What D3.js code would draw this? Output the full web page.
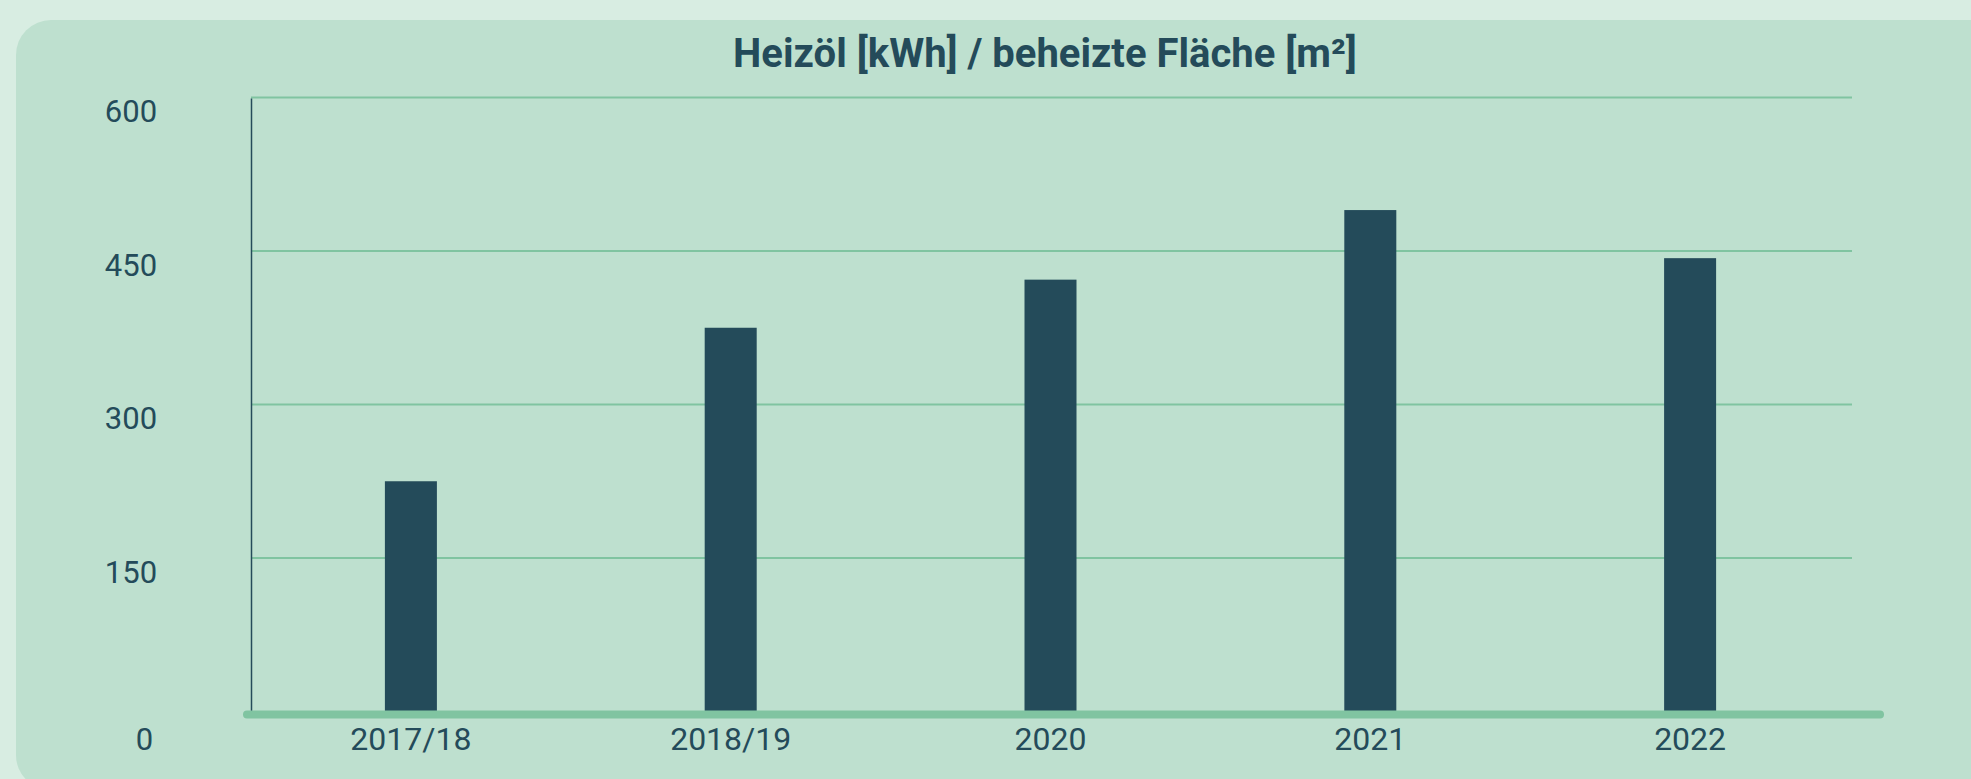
<!DOCTYPE html>
<html lang="de">
<head>
<meta charset="UTF-8">
<title>Heizöl</title>
<script src="https://cdn.jsdelivr.net/npm/d3@7"></script>
<style>
  body { margin: 0; background: #d8ede2; overflow: hidden; }
  text { font-family: Roboto, "Noto Sans", sans-serif; fill: #244b5a; }
</style>
</head>
<body>
<div id="chart"></div>
<script>
// data
const categories = ["2017/18", "2018/19", "2020", "2021", "2022"]
const values = [225, 375, 422, 490, 443]
const yTicks = [0, 150, 300, 450, 600]
const title = "Heizöl [kWh] / beheizte Fläche [m²]"

const width = 1971
const height = 779

const svg = d3.select("#chart").append("svg")
    .attr("width", width)
    .attr("height", height)

// card
svg.append("rect")
    .attr("x", 16).attr("y", 20)
    .attr("width", 2000).attr("height", 770)
    .attr("rx", 35)
    .attr("fill", "#bee0cf")

const x = d3.scaleBand().domain(categories).range([251, 1850])
const y = d3.scaleLinear().domain([0, 600]).range([711.5, 97.5])

// gridlines
svg.append("g")
    .selectAll("line")
    .data(yTicks.filter(d => d > 0))
    .enter().append("line")
    .attr("x1", 251).attr("x2", 1852)
    .attr("y1", d => y(d)).attr("y2", d => y(d))
    .attr("stroke", "#80c4a1")
    .attr("stroke-width", 1.8)

// left axis line
svg.append("line")
    .attr("x1", 251.5).attr("x2", 251.5)
    .attr("y1", y(600) + 1).attr("y2", y(0))
    .attr("stroke", "#244b5a")
    .attr("stroke-width", 1.5)

// bars
const barW = 52
svg.append("g")
    .selectAll("rect")
    .data(values)
    .enter().append("rect")
    .attr("x", (d, i) => x(categories[i]) + x.bandwidth() / 2 - barW / 2)
    .attr("y", d => y(d))
    .attr("width", barW)
    .attr("height", d => y(0) - y(d))
    .attr("fill", "#244b5a")

// thick base line
svg.append("line")
    .attr("x1", 247).attr("x2", 1880)
    .attr("y1", y(0) + 3).attr("y2", y(0) + 3)
    .attr("stroke", "#80c4a1")
    .attr("stroke-width", 8)
    .attr("stroke-linecap", "round")

// x labels
const xAxis = svg.append("g")
    .attr("transform", `translate(0,${y(0)})`)
    .call(d3.axisBottom(x).tickSize(0))
xAxis.select(".domain").remove()
xAxis.selectAll("text")
    .attr("y", 38).attr("dy", null)
    .attr("font-size", 32)
    .style("fill", "#244b5a")
    .attr("font-family", "Roboto")

// y labels
const yAxis = svg.append("g")
    .attr("transform", "translate(251,0)")
    .call(d3.axisLeft(y).tickValues(yTicks).tickSize(0))
yAxis.select(".domain").remove()
yAxis.selectAll("text")
    .attr("text-anchor", "middle")
    .attr("x", d => d === 0 ? -106.5 : -120)
    .attr("y", d => d === 0 ? 38 : 24).attr("dy", null)
    .attr("font-size", 31)
    .style("fill", "#244b5a")
    .attr("font-family", "Roboto")

// title
svg.append("text")
    .attr("x", 1045).attr("y", 67)
    .attr("text-anchor", "middle")
    .attr("font-size", 40)
    .attr("font-weight", "bold")
    .text(title)
</script>
</body>
</html>
